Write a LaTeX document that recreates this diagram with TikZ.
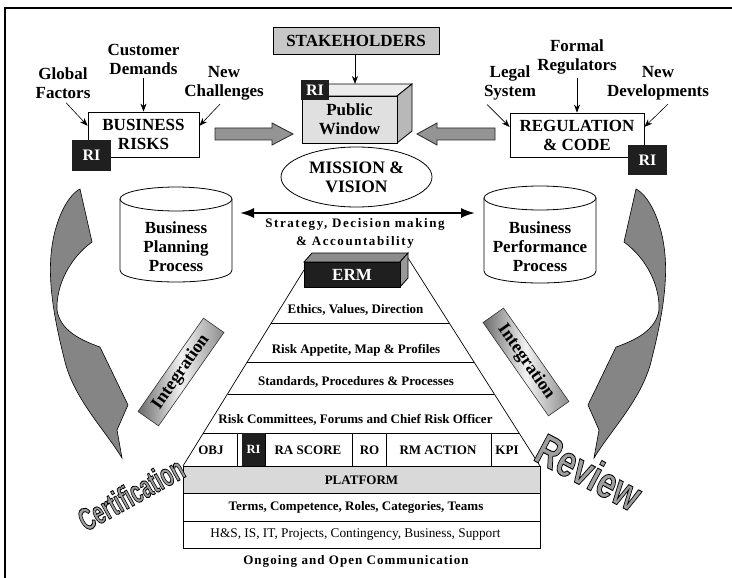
\documentclass[tikz,border=0pt]{standalone}
\usepackage{fontspec}
\setmainfont{Liberation Serif}
\newfontfamily\artfont{Liberation Sans}
\usetikzlibrary{arrows.meta,calc,shapes.geometric}
\tikzset{
  big/.style={font=\fontsize{17}{19}\selectfont\bfseries, align=center, inner sep=0pt},
  small/.style={font=\fontsize{13}{15}\selectfont\bfseries, inner sep=0pt},
  box/.style={draw, line width=0.8pt, fill=white, align=center, inner sep=0pt, font=\fontsize{17}{19}\selectfont\bfseries},
  ribox/.style={fill=black!88, text=white, inner sep=0pt, font=\fontsize{16}{18}\selectfont\bfseries},
  conn/.style={-{Stealth[length=8pt,width=6pt]}, line width=0.6pt},
  blockarrow/.style={fill=black!42, draw=black!85, line width=0.8pt},
  swoosh/.style={fill=black!48, draw=black, line width=0.6pt},
  intg/.style={draw=black!80, line width=0.6pt, left color=black!58, right color=black!45, middle color=black!5,
     minimum width=114pt, minimum height=25pt, inner sep=0pt, font=\fontsize{18}{20}\selectfont\bfseries},
  pline/.style={line width=0.7pt},
  wordart/.style={text=black!38, inner sep=0pt},
}
\begin{document}
\begin{tikzpicture}[x=1pt,y=-1pt]
\useasboundingbox (0,0) rectangle (732,578);
\fill[white] (0,0) rectangle (732,578);
% frame
\draw[line width=1.2pt] (5,578) -- (5,8) -- (732,8);

% ---------- top left ----------
\node[big] (cust) at (143.5,59) {Customer\\Demands};
\node[big] (glob) at (63,83) {Global\\Factors};
\node[big] (newc) at (224,83) {New\\Challenges};
\node[box, minimum width=111pt, minimum height=45pt] (br) at (143.5,134.5) {BUSINESS\\RISKS};
\node[ribox, minimum width=39pt, minimum height=31pt] (ri1) at (91.5,155.5) {RI};
\draw[conn] ([xshift=3pt,yshift=-4pt]glob.south) -- ($(br.north west)!0.31!(br.south west)$);
\draw[conn] ([yshift=-4pt]cust.south) -- (cust.south |- br.north);
\draw[conn] ([xshift=-4pt,yshift=-4pt]newc.south) -- ($(br.north east)!0.31!(br.south east)$);

% ---------- top right ----------
\node[big] (formal) at (577,57) {Formal\\Regulators};
\node[big] (legal) at (510,83) {Legal\\System};
\node[big] (newd) at (658,83) {New\\Developments};
\node[box, minimum width=134pt, minimum height=44pt] (rc) at (577,135) {REGULATION\\\& CODE};
\node[ribox, minimum width=39pt, minimum height=30pt] (ri3) at (647.5,160) {RI};
\draw[conn] ([xshift=-23pt,yshift=-4pt]legal.south) -- ($(rc.north west)!0.32!(rc.south west)$);
\draw[conn] ([yshift=-4pt]formal.south) -- (formal.south |- rc.north);
\draw[conn] ([xshift=10pt,yshift=-4pt]newd.south) -- ($(rc.north east)!0.32!(rc.south east)$);

% ---------- centre top ----------
\node[box, fill=black!22, minimum width=166pt, minimum height=27pt] (stk) at (356,40.5) {STAKEHOLDERS};
% public window 3D box
\draw[line width=0.8pt, fill=black!7] (302,96) -- (317,84) -- (412,84) -- (397,96) -- cycle;
\draw[line width=0.8pt, fill=black!28] (397,96) -- (412,84) -- (412,131) -- (397,143) -- cycle;
\node[box, fill=black!12, minimum width=95pt, minimum height=47pt] (pw) at (349.5,119.5) {Public\\Window};
\node[ribox, minimum width=28pt, minimum height=20pt] (ri2) at (315,90) {RI};
\coordinate (pwtop) at (355,84);
\draw[conn] (stk.south -| pwtop) -- (pwtop);

% block arrows
\draw[blockarrow] (215,128) -- (272,128) -- (272,123) -- (293,134) -- (272,145) -- (272,140) -- (215,140) -- cycle;
\draw[blockarrow] (495,128) -- (437,128) -- (437,123) -- (417,134) -- (437,145) -- (437,140) -- (495,140) -- cycle;

\node[draw, ellipse, line width=0.8pt, minimum width=151pt, minimum height=60pt, inner sep=0pt,
      font=\fontsize{17.5}{19}\selectfont\bfseries, align=center] (mv) at (356.5,177) {MISSION \&\\VISION};

% ---------- cylinders ----------
\draw[line width=0.8pt, fill=white] (120,199) -- (120,270) .. controls (120,286) and (232,286) .. (232,270) -- (232,199);
\draw[line width=0.8pt, fill=white] (176,199) ellipse [x radius=56pt, y radius=12pt];
\node[big] (bpp) at (176,247) {Business\\Planning\\Process};
\draw[line width=0.8pt, fill=white] (484,198) -- (484,271) .. controls (484,287) and (596,287) .. (596,271) -- (596,198);
\draw[line width=0.8pt, fill=white] (540,198) ellipse [x radius=56pt, y radius=12pt];
\node[big] (bperf) at (540,247) {Business\\Performance\\Process};

% strategy double arrow
\coordinate (sdl) at (240,213);
\coordinate (sdr) at (475,213);
\draw[line width=2pt, {Latex[length=14pt,width=10pt]}-{Latex[length=14pt,width=10pt]}] (sdl) -- (sdr);
\node[font=\fontsize{13}{18.5}\selectfont\bfseries\addfontfeature{LetterSpace=12}, align=center, inner sep=0pt] (strat) at (355,233.5)
  {Strategy, Decision making\\\& Accountability};

% ---------- swooshes ----------
\def\swooshpath{(80,189) -- (92,242) .. controls (70,258) and (56,285) .. (57,310)
   .. controls (60,330) and (80,340) .. (100,347) -- (128,405) -- (117,430) -- (122,458)
   .. controls (105,430) and (75,400) .. (65,362) .. controls (57,330) and (48,290) .. (51,255)
   .. controls (54,220) and (68,195) .. (80,189) -- cycle}
\draw[swoosh] \swooshpath;
\begin{scope}[xshift=716pt, xscale=-1]
\draw[swoosh] \swooshpath;
\end{scope}

% ---------- pyramid ----------
\draw[pline] (304,270) -- (183,466);
\draw[pline] (408,258) -- (540,466);
\draw[line width=0.8pt, fill=black!45] (304,262) -- (312,253) -- (408,253) -- (400,262) -- cycle;
\draw[line width=0.8pt, fill=black!40] (400,262) -- (408,253) -- (408,278) -- (400,287) -- cycle;
\node[ribox, draw=black, line width=0.8pt, minimum width=96pt, minimum height=25pt, font=\fontsize{17}{19}\selectfont\bfseries] (erm) at (352,274.5) {ERM};

\draw[pline] (271.3,323) -- (449.2,323);
\draw[pline] (247.2,362) -- (474.0,362);
\draw[pline] (227.5,394) -- (494.3,394);
\draw[pline] (203.4,433) -- (519.1,433);
\node[small] (eth) at (355.5,310) {Ethics, Values, Direction};
\node[small] (rap) at (356,350) {Risk Appetite, Map \& Profiles};
\node[small] (std) at (356,382) {Standards, Procedures \& Processes};
\node[small] (rcf) at (355.5,420) {Risk Committees, Forums and Chief Risk Officer};

% row of cells
\foreach \xx in {237,265,352,386,491} \draw[pline] (\xx,433) -- (\xx,466);
\node[ribox, minimum width=23pt, minimum height=33pt, font=\fontsize{12.5}{14}\selectfont\bfseries] (rir) at (253.5,449.5) {RI};
\node[small] (obj) at (211,450) {OBJ};
\node[small] (ras) at (308,450) {RA SCORE};
\node[small] (ro) at (369.5,450) {RO};
\node[small] (rma) at (438,450) {RM ACTION};
\node[small] (kpi) at (507,450) {KPI};

% base boxes
\draw[pline, fill=black!15] (183,466) rectangle (540,493);
\draw[pline, fill=white] (183,493) rectangle (540,521);
\draw[pline, fill=white] (183,521) rectangle (540,548);
\node[small] (plat) at (361.5,480) {PLATFORM};
\node[small] (terms) at (356,507.5) {Terms, Competence, Roles, Categories, Teams};
\node[font=\fontsize{13.3}{15}\selectfont, inner sep=0pt] (hs) at (355.5,534.5) {H\&S, IS, IT, Projects, Contingency, Business, Support};
\node[font=\fontsize{13}{15}\selectfont\bfseries\addfontfeature{LetterSpace=8}, inner sep=0pt] (ongo) at (356,561) {Ongoing and Open Communication};

% ---------- integration ----------
\node[intg, rotate=55] (intL) at (181,372) {Integration};
\node[intg, rotate=-55] (intR) at (526,362) {Integration};

% ---------- word art ----------
\node[wordart, rotate=29] (cert) at (131,494)
  {\artfont\bfseries\fontsize{32}{32}\selectfont\special{pdf:literal direct 0 G 2 Tr 0.9 w}\scalebox{0.62}[1]{Certification}\special{pdf:literal direct 0 Tr}};
\node[wordart, rotate=-28] (rev) at (589,472)
  {\artfont\bfseries\fontsize{44}{44}\selectfont\special{pdf:literal direct 0 G 2 Tr 0.9 w}\scalebox{0.74}[1]{Review}\special{pdf:literal direct 0 Tr}};
\end{tikzpicture}
\end{document}
